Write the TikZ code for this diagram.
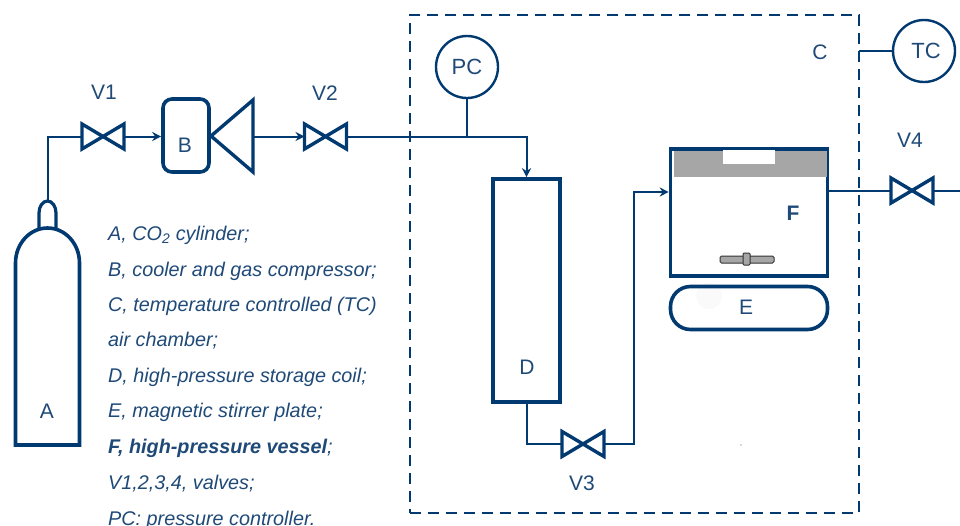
\documentclass[tikz,border=0pt]{standalone}
\usepackage{fontspec}
\setmainfont{Liberation Sans}
\usetikzlibrary{arrows.meta}
\definecolor{navy}{HTML}{003A70}
\definecolor{inktext}{HTML}{1F4A78}
\tikzset{
  x=1pt,y=-1pt,
  shape line/.style={draw=navy,line width=3.6pt},
  pipe/.style={draw=navy,line width=2pt},
  flow/.style={pipe,-{Stealth[length=9pt,width=9pt]}},
  valve/.style={minimum width=42pt,minimum height=25pt,inner sep=0pt,outer sep=0pt,
    append after command={\pgfextra{\draw[shape line,line width=3.4pt,line join=miter]
      (\tikzlastnode.north west)--(\tikzlastnode.south east)--(\tikzlastnode.north east)--(\tikzlastnode.south west)--cycle;}}},
  lab/.style={text=inktext,font=\fontsize{21}{24}\selectfont,inner sep=0pt},
  legend/.style={text=inktext,font=\fontsize{19.8}{22}\selectfont\itshape,anchor=base west,inner sep=0pt},
  ctrl/.style={shape line,line width=2.4pt,circle,minimum size=62pt,inner sep=0pt,text=inktext,font=\fontsize{22}{24}\selectfont},
}
\begin{document}
\begin{tikzpicture}
\useasboundingbox (0,0) rectangle (960,525);
\clip (0,0) rectangle (960,525);
\fill[white] (0,0) rectangle (960,525);
% air chamber
\node[draw=navy,line width=2.6pt,dash pattern=on 11pt off 7pt,minimum width=449pt,minimum height=498pt,inner sep=0pt,outer sep=0pt] (chamber) at (634.5,264) {};
\node[lab] (clab) at (820,52) {C};
% cylinder
\draw[shape line,line join=miter,fill=white] (15.5,445) -- (15.5,263) arc[start angle=180,end angle=90,x radius=32,y radius=-35] arc[start angle=90,end angle=0,x radius=32,y radius=-35] -- (79.5,445) -- cycle;
\draw[shape line,line width=3.2pt] (39,228) -- (39,213) arc[start angle=180,end angle=0,x radius=8.5,y radius=-12] -- (56,228);
\coordinate (necktop) at (47.5,200);
\node[lab] (a) at (47,411) {A};
% valves
\node[valve] (v1) at (103,136.5) {};
\node[valve] (v2) at (325.5,136.5) {};
\node[valve] (v3) at (583,444) {};
\node[valve] (v4) at (912,190.5) {};
\node[lab] at (104,92) (v1lab) {V1};
\node[lab] at (325,93) (v2lab) {V2};
\node[lab] at (582,483) (v3lab) {V3};
\node[lab] at (910,140) (v4lab) {V4};
% compressor and cooler
\node[shape line,rounded corners=9pt,minimum width=46pt,minimum height=73pt,inner sep=0pt,outer sep=1.8pt] (b) at (186,135.5) {};
\node[lab] (blab) at (185,145) {B};
\draw[shape line,line width=3.4pt,line join=miter] (211,136) -- (253,100) -- (253,172) -- cycle;
\coordinate (compout) at (254,136);
% controllers
\node[ctrl] (pc) at (467,67) {PC};
\node[ctrl] (tc) at (924,51) {\hspace*{4pt}TC};
% storage coil
\node[shape line,minimum width=67pt,minimum height=223pt,inner sep=0pt,outer sep=1.8pt] (d) at (526.5,290.5) {};
\node[lab] (dlab) at (527,367) {D};
% vessel
\node[draw=navy,line width=3.6pt,minimum width=157pt,minimum height=127pt,inner sep=0pt,outer sep=1.8pt] (f) at (749,212.5) {};
\fill[gray!70] (674,151) rectangle (826.5,177);
\fill[white] (723,150) rectangle (775,164);
\node[lab,font=\fontsize{21}{24}\selectfont\bfseries] (flab) at (793,213) {F};
\draw[black!80,fill=gray!70,line width=1pt,rounded corners=1.5pt] (720,256) rectangle (774,263);
\draw[black!80,fill=gray!70,line width=1pt,rounded corners=1pt] (743,253) rectangle (750,265);
% plate
\fill[black!2] (709,296) circle (13);
\node[shape line,rounded corners=20pt,minimum width=157pt,minimum height=43pt,inner sep=0pt,outer sep=1.8pt] (e) at (749,308) {};
\node[lab] (elab) at (746,307) {E};
\fill[gray!60] (741,445) circle (0.8);
% piping
\coordinate (j1) at (467,136.5);
\coordinate (tee) at (526.5,136.5);
\coordinate (outend) at (960,190.5);
\draw[pipe] (necktop) |- (v1.west);
\draw[flow] (v1.east) -- (b.west |- v1.east);
\draw[flow] (compout |- v2.west) -- (v2.west);
\draw[flow] (v2.east) -- (tee) -- (d.north);
\draw[pipe] (pc.south) -- (j1);
\draw[pipe] (tc.west) -- (chamber.east |- tc.west);
\draw[pipe] (d.south) |- (v3.west);
\draw[flow] (v3.east) -- (634,444) -- (634,192) -- (f.west |- 0,192);
\draw[pipe] (f.east |- v4.west) -- (v4.west);
\draw[pipe] (v4.east) -- (outend);
% legend
\node[legend] (l1) at (108,240) {A, CO\textsubscript{2} cylinder;};
\node[legend] (l2) at (108,276) {B, cooler and gas compressor;};
\node[legend] (l3) at (108,311) {C, temperature controlled (TC)};
\node[legend] (l4) at (108,346) {air chamber;};
\node[legend] (l5) at (108,382) {D, high-pressure storage coil;};
\node[legend] (l6) at (108,417) {E, magnetic stirrer plate;};
\node[legend] (l7) at (108,453) {\textbf{F, high-pressure vessel};};
\node[legend] (l8) at (108,489) {V1,2,3,4, valves;};
\node[legend] (l9) at (108,525) {PC: pressure controller.};
\end{tikzpicture}
\end{document}
